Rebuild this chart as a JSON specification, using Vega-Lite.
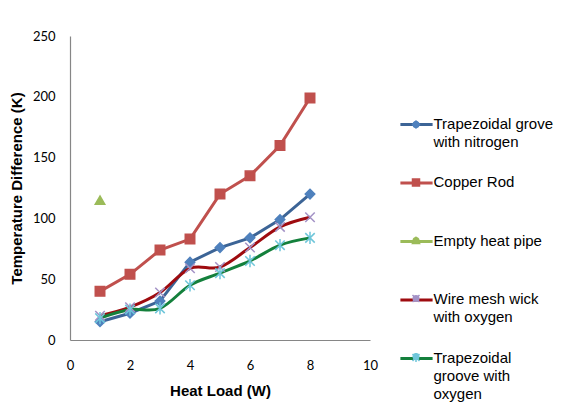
{
  "$schema": "https://vega.github.io/schema/vega-lite/v6.json",
  "width": 300,
  "height": 304,
  "autosize": {"type": "none"},
  "padding": {"left": 70, "top": 36, "right": 196, "bottom": 68},
  "background": "white",
  "config": {
    "view": {"stroke": null},
    "axis": {"grid": false, "ticks": false, "labelFlush": false, "domainColor": "#868686", "domainWidth": 1.2, "labelFont": "Lato", "labelFontSize": 13, "labelColor": "#000000", "titleFont": "Liberation Sans", "titleFontSize": 15, "titleFontWeight": "bold", "titleColor": "#000000"},
    "legend": {"labelFont": "Liberation Sans", "labelFontSize": 15, "labelColor": "#000000", "labelLimit": 400}
  },
  "data": {
    "values": [
      {"series": "Trapezoidal grove with nitrogen", "load": 1, "dT": 15},
      {"series": "Trapezoidal grove with nitrogen", "load": 2, "dT": 22},
      {"series": "Trapezoidal grove with nitrogen", "load": 3, "dT": 32},
      {"series": "Trapezoidal grove with nitrogen", "load": 4, "dT": 64},
      {"series": "Trapezoidal grove with nitrogen", "load": 5, "dT": 76},
      {"series": "Trapezoidal grove with nitrogen", "load": 6, "dT": 84},
      {"series": "Trapezoidal grove with nitrogen", "load": 7, "dT": 99},
      {"series": "Trapezoidal grove with nitrogen", "load": 8, "dT": 120},
      {"series": "Copper Rod", "load": 1, "dT": 40},
      {"series": "Copper Rod", "load": 2, "dT": 54},
      {"series": "Copper Rod", "load": 3, "dT": 74},
      {"series": "Copper Rod", "load": 4, "dT": 83},
      {"series": "Copper Rod", "load": 5, "dT": 120},
      {"series": "Copper Rod", "load": 6, "dT": 135},
      {"series": "Copper Rod", "load": 7, "dT": 160},
      {"series": "Copper Rod", "load": 8, "dT": 199},
      {"series": "Empty heat pipe", "load": 1, "dT": 115},
      {"series": "Wire mesh wick with oxygen", "load": 1, "dT": 20},
      {"series": "Wire mesh wick with oxygen", "load": 2, "dT": 27},
      {"series": "Wire mesh wick with oxygen", "load": 3, "dT": 39},
      {"series": "Wire mesh wick with oxygen", "load": 4, "dT": 59},
      {"series": "Wire mesh wick with oxygen", "load": 5, "dT": 60},
      {"series": "Wire mesh wick with oxygen", "load": 6, "dT": 76},
      {"series": "Wire mesh wick with oxygen", "load": 7, "dT": 93},
      {"series": "Wire mesh wick with oxygen", "load": 8, "dT": 101},
      {"series": "Trapezoidal groove with oxygen", "load": 1, "dT": 18},
      {"series": "Trapezoidal groove with oxygen", "load": 2, "dT": 25},
      {"series": "Trapezoidal groove with oxygen", "load": 3, "dT": 26},
      {"series": "Trapezoidal groove with oxygen", "load": 4, "dT": 45},
      {"series": "Trapezoidal groove with oxygen", "load": 5, "dT": 55},
      {"series": "Trapezoidal groove with oxygen", "load": 6, "dT": 65},
      {"series": "Trapezoidal groove with oxygen", "load": 7, "dT": 78},
      {"series": "Trapezoidal groove with oxygen", "load": 8, "dT": 84}
    ]
  },
  "encoding": {
    "x": {"field": "load", "type": "quantitative", "scale": {"domain": [0, 10]}, "axis": {"values": [0, 2, 4, 6, 8, 10], "labelPadding": 19, "title": "Heat Load (W)", "titlePadding": 11}},
    "y": {"field": "dT", "type": "quantitative", "scale": {"domain": [0, 250]}, "axis": {"values": [0, 50, 100, 150, 200, 250], "labelPadding": 15, "title": "Temperature Difference (K)", "titlePadding": 8}}
  },
  "layer": [
    {
      "transform": [{"filter": "datum.series == 'Trapezoidal grove with nitrogen' || datum.series == 'Copper Rod'"}],
      "mark": {"type": "line", "strokeWidth": 3, "interpolate": "linear"},
      "encoding": {
        "stroke": {"field": "series", "type": "nominal",
          "scale": {"domain": ["Trapezoidal grove with nitrogen", "Copper Rod", "Empty heat pipe", "Wire mesh wick with oxygen", "Trapezoidal groove with oxygen"], "range": ["#3C6496", "#C0504D", "#9BBB59", "#9E0B0F", "#14803C"]},
          "legend": {"orient": "right", "offset": -42.5, "padding": 81, "title": null, "symbolType": "M-4.6,0H4.6", "symbolSize": 49, "symbolStrokeWidth": 3, "rowPadding": 6.5, "labelOffset": 9.5, "labelBaseline": "top",
            "labelExpr": "datum.label == 'Trapezoidal grove with nitrogen' ? ['Trapezoidal grove', 'with nitrogen', ''] : datum.label == 'Copper Rod' ? ['Copper Rod', '', ''] : datum.label == 'Empty heat pipe' ? ['Empty heat pipe', '', ''] : datum.label == 'Wire mesh wick with oxygen' ? ['Wire mesh wick', 'with oxygen', ''] : ['Trapezoidal', 'groove with', 'oxygen']",
            "encode": {"labels": {"update": {"lineHeight": {"value": 18}, "dy": {"value": -8}}}}}
        }
      }
    },
    {
      "transform": [{"filter": "datum.series == 'Wire mesh wick with oxygen' || datum.series == 'Trapezoidal groove with oxygen'"}],
      "mark": {"type": "line", "strokeWidth": 3, "interpolate": "cardinal"},
      "encoding": {
        "stroke": {"field": "series", "type": "nominal",
          "scale": {"domain": ["Trapezoidal grove with nitrogen", "Copper Rod", "Empty heat pipe", "Wire mesh wick with oxygen", "Trapezoidal groove with oxygen"], "range": ["#3C6496", "#C0504D", "#9BBB59", "#9E0B0F", "#14803C"]},
          "legend": {"orient": "right", "offset": -42.5, "padding": 81, "title": null, "symbolType": "M-4.6,0H4.6", "symbolSize": 49, "symbolStrokeWidth": 3, "rowPadding": 6.5, "labelOffset": 9.5, "labelBaseline": "top",
            "labelExpr": "datum.label == 'Trapezoidal grove with nitrogen' ? ['Trapezoidal grove', 'with nitrogen', ''] : datum.label == 'Copper Rod' ? ['Copper Rod', '', ''] : datum.label == 'Empty heat pipe' ? ['Empty heat pipe', '', ''] : datum.label == 'Wire mesh wick with oxygen' ? ['Wire mesh wick', 'with oxygen', ''] : ['Trapezoidal', 'groove with', 'oxygen']",
            "encode": {"labels": {"update": {"lineHeight": {"value": 18}, "dy": {"value": -8}}}}}
        }
      }
    },
    {
      "mark": {"type": "point", "filled": false, "size": 90, "strokeWidth": 1.5, "opacity": 1},
      "encoding": {
        "color": {"field": "series", "type": "nominal",
          "scale": {"domain": ["Trapezoidal grove with nitrogen", "Copper Rod", "Empty heat pipe", "Wire mesh wick with oxygen", "Trapezoidal groove with oxygen"], "range": ["#4F81BD", "#C0504D", "#9BBB59", "#A392C6", "#6FC6DA"]},
          "legend": {"orient": "none", "legendX": 338.5, "legendY": 81, "padding": 0, "title": null, "symbolSize": 49, "symbolStrokeWidth": 1.5, "rowPadding": 1, "labelOffset": 9.5, "labelBaseline": "top", "labelOpacity": 0,
            "labelExpr": "datum.label == 'Trapezoidal grove with nitrogen' ? ['Trapezoidal grove', 'with nitrogen', ''] : datum.label == 'Copper Rod' ? ['Copper Rod', '', ''] : datum.label == 'Empty heat pipe' ? ['Empty heat pipe', '', ''] : datum.label == 'Wire mesh wick with oxygen' ? ['Wire mesh wick', 'with oxygen', ''] : ['Trapezoidal', 'groove with', 'oxygen']",
            "encode": {"labels": {"update": {"lineHeight": {"value": 18}, "dy": {"value": -8}}}}}
        },
        "fill": {"field": "series", "type": "nominal",
          "scale": {"domain": ["Trapezoidal grove with nitrogen", "Copper Rod", "Empty heat pipe", "Wire mesh wick with oxygen", "Trapezoidal groove with oxygen"], "range": ["#4F81BD", "#C0504D", "#9BBB59", "#A392C6", "#6FC6DA"]},
          "legend": {"orient": "none", "legendX": 338.5, "legendY": 81, "padding": 0, "title": null, "symbolSize": 49, "symbolStrokeWidth": 1.5, "rowPadding": 1, "labelOffset": 9.5, "labelBaseline": "top", "labelOpacity": 0,
            "labelExpr": "datum.label == 'Trapezoidal grove with nitrogen' ? ['Trapezoidal grove', 'with nitrogen', ''] : datum.label == 'Copper Rod' ? ['Copper Rod', '', ''] : datum.label == 'Empty heat pipe' ? ['Empty heat pipe', '', ''] : datum.label == 'Wire mesh wick with oxygen' ? ['Wire mesh wick', 'with oxygen', ''] : ['Trapezoidal', 'groove with', 'oxygen']",
            "encode": {"labels": {"update": {"lineHeight": {"value": 18}, "dy": {"value": -8}}}}}
        },
        "shape": {"field": "series", "type": "nominal",
          "scale": {"domain": ["Trapezoidal grove with nitrogen", "Copper Rod", "Empty heat pipe", "Wire mesh wick with oxygen", "Trapezoidal groove with oxygen"], "range": ["diamond", "square", "triangle-up", "M-1,-1L1,1M-1,1L1,-1", "M-1,-1L1,1M-1,1L1,-1M0,-1.3L0,1.3"]},
          "legend": {"orient": "none", "legendX": 338.5, "legendY": 81, "padding": 0, "title": null, "symbolSize": 49, "symbolStrokeWidth": 1.5, "rowPadding": 1, "labelOffset": 9.5, "labelBaseline": "top", "labelOpacity": 0,
            "labelExpr": "datum.label == 'Trapezoidal grove with nitrogen' ? ['Trapezoidal grove', 'with nitrogen', ''] : datum.label == 'Copper Rod' ? ['Copper Rod', '', ''] : datum.label == 'Empty heat pipe' ? ['Empty heat pipe', '', ''] : datum.label == 'Wire mesh wick with oxygen' ? ['Wire mesh wick', 'with oxygen', ''] : ['Trapezoidal', 'groove with', 'oxygen']",
            "encode": {"labels": {"update": {"lineHeight": {"value": 18}, "dy": {"value": -8}}}}}
        }
      }
    }
  ]
}
